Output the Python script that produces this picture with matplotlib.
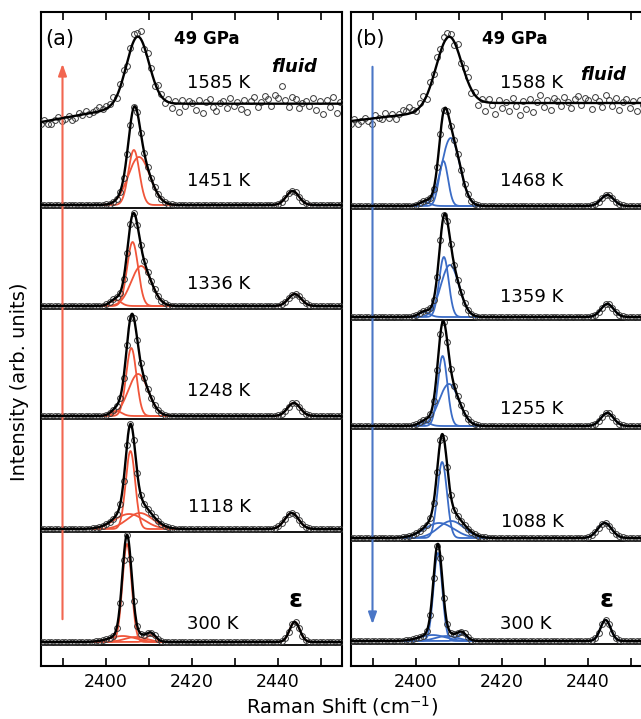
import numpy as np
import matplotlib.pyplot as plt
from matplotlib.ticker import MultipleLocator

W, H = 641, 719

# temperatures, top to bottom: (a) heating, (b) cooling
temps_a = [1585, 1451, 1336, 1248, 1118, 300]
temps_b = [1588, 1468, 1359, 1255, 1088, 300]

# zero line of each stacked spectrum (arb. units)
offsets_a = [540, 458, 357, 247, 134, 21]
offsets_b = [540, 457, 346, 237, 125, 22]

# vibron components (centre cm-1, height, fwhm); first row = fluid, single band
peaks_a = [
    [(2407.4, 70, 6.2)],
    [(2406.6, 55, 3.0), (2407.8, 48, 6.0)],
    [(2402.3, 6, 3.0), (2406.3, 64, 3.0), (2408.3, 40, 5.5)],
    [(2402.5, 5, 3.0), (2406.0, 68, 2.8), (2407.6, 42, 5.5)],
    [(2405.8, 78, 2.6), (2405.5, 15, 8.0), (2408.0, 16, 7.0)],
    [(2405.0, 98, 2.5), (2404.0, 6, 7.0), (2407.0, 5, 6.0), (2410.6, 7, 2.5)],
]
peaks_b = [
    [(2407.6, 71, 7.0)],
    [(2402.1, 4, 3.0), (2406.5, 45, 2.5), (2408.2, 68, 5.0)],
    [(2402.0, 5, 3.0), (2406.6, 60, 2.6), (2408.0, 52, 5.0)],
    [(2402.0, 4, 3.0), (2406.3, 70, 2.6), (2407.8, 42, 5.5)],
    [(2406.2, 76, 2.6), (2405.5, 15, 8.0), (2408.3, 17, 7.0)],
    [(2405.2, 88, 2.4), (2404.0, 6, 7.0), (2407.2, 5, 6.0), (2410.8, 7, 2.5)],
]
# epsilon-phase band (centre, height, fwhm)
eps_a = [None, (2443.5, 14, 3.5), (2444.0, 12, 3.5), (2443.8, 13, 3.5), (2443.3, 16, 3.8), (2444.0, 20, 2.8)]
eps_b = [None, (2444.6, 11, 3.5), (2444.6, 13, 3.5), (2444.6, 13, 3.5), (2444.0, 15, 3.8), (2444.2, 21, 2.8)]

# fluid background: level at 2385, slope, knee, step under the band
fluid_bg_a = (4, 0.77, 2401, 6.0)
fluid_bg_b = (5, 0.50, 2401, 10.0)
base_level = 3

# scatter of the fluid data points about the fit
res_fluid_a = [-2, 1, -3, -4, 0, 2, -3, -1, 1, -4, -2, 2, 0, 3, -1, 1, 2, 4, 1, 3,
               2, 5, -2, 3, 6, -3, 2, 7, 4, 8, -2, 5, 3, -4, 6, 2,
               -3, 3, -5, 2, -8, 4, -2, 3, 1, -6, 4, -9, 2, 5, -3, -7, 1, 3, -4, 6,
               -2, 2, -5, 4, -8, 3, 7, -3, 2, 8, 5, -2, 9, 6, 18, 4, -3, 7, 5, -4,
               1, 3, -2, 6, -6, 3, -10, 4, -3, 7, -9, 2]
res_fluid_b = [-3, 2, -4, -1, 1, -2, -5, 3, 0, -2, 4, -1, 2, -3, 1, 5, 3, 6, 2, -1,
               4, 6, -3, 5, 2, 7, 3, 6, 5, 3, -3, 6, -2, 4, 5, -4,
               3, -6, 2, -9, 4, -2, -11, 3, -5, 1, -8, 5, -3, -12, 2, -6, 4, -9, 1, 8,
               -4, 3, -7, 5, 2, -3, 6, 1, -5, 4, 7, -2, 5, 3, -6, 6, 2, -4, 8, 3,
               -3, 5, -7, 1, 4, -5, 2, -8, 3, -2, 4, -6]


def gauss(x, c, h, w):
    return h * np.exp(-4 * np.log(2) * (x - c) ** 2 / w ** 2)


def fluid_bg(x, bg, c):
    lo, slope, knee, step = bg
    return lo + slope * (np.minimum(x, knee) - 2385) + step / (1 + np.exp(-(x - c) / 1.2))


def px(x, y):
    return x / W, 1 - y / H


def draw_panel(ax, temps, offsets, peaks, eps, bg, res, col):
    xf = np.linspace(2385, 2455, 800)
    xd = np.arange(2385, 2455.01, 0.8)
    mk = dict(ls='none', marker='o', ms=4.2, mfc='none', mec='#3a3a3a', mew=0.7, zorder=3)
    for i in range(len(temps)):
        off = offsets[i]
        if i == 0:
            c, h, w = peaks[0][0]
            fit = lambda x: off + fluid_bg(x, bg, c) + gauss(x, c, h, w)
            xr = 2385 + 0.8 * np.arange(len(res))
            ax.plot(xr, fit(xr) + np.array(res), **mk)
            ax.plot(xf, fit(xf), color='black', lw=1.7, zorder=4)
            continue
        ax.axhline(off, color='black', lw=1.3, zorder=1)
        comps = list(peaks[i])
        xm = np.linspace(2397, 2418, 300)
        for c, h, w in comps:
            ax.plot(xm, off + base_level + gauss(xm, c, h, w), color=col, lw=1.3, zorder=2)
        xe = np.linspace(2439.5, 2448, 100)
        ce, he, we = eps[i]
        ax.plot(xe, off + base_level + gauss(xe, ce, he, we), color=col, lw=1.3, zorder=2)
        allc = comps + [eps[i]]
        tot = lambda x: off + base_level + sum(gauss(x, c, h, w) for c, h, w in allc)
        ax.plot(xd, tot(xd), **mk)
        ax.plot(xf, tot(xf), color='black', lw=1.7, zorder=4)

    ax.set_xlim(2385, 2455)
    ax.set_ylim(0, 654)
    ax.set_yticks([])
    ax.xaxis.set_major_locator(MultipleLocator(20))
    ax.xaxis.set_minor_locator(MultipleLocator(10))
    ax.tick_params(axis='x', which='both', direction='in', top=True, length=6, width=1.2,
                   labelsize=12.5, pad=5)
    for s in ax.spines.values():
        s.set_linewidth(1.5)


fig = plt.figure(figsize=(W / 100, H / 100), dpi=100)
ax1 = fig.add_axes([41 / W, (H - 666) / H, 301 / W, 654 / H])
ax2 = fig.add_axes([351 / W, (H - 666) / H, 301 / W, 654 / H])

red = '#f0553a'
blue = '#3b6cc6'
draw_panel(ax1, temps_a, offsets_a, peaks_a, eps_a, fluid_bg_a, res_fluid_a, red)
draw_panel(ax2, temps_b, offsets_b, peaks_b, eps_b, fluid_bg_b, res_fluid_b, blue)

ax1.annotate('', xy=(2390, 605), xytext=(2390, 44),
             arrowprops=dict(arrowstyle='-|>,head_width=0.25,head_length=0.7', color='#f26650', lw=1.5))
ax2.annotate('', xy=(2390, 39), xytext=(2390, 602),
             arrowprops=dict(arrowstyle='-|>,head_width=0.25,head_length=0.7', color='#4a76c6', lw=1.5))

# temperature labels (pixel positions of label centres)
ya = [83, 181, 284, 391, 507, 624]
yb = [83, 181, 297, 409, 522, 624]
for i in range(6):
    xa = 213 if temps_a[i] == 300 else 219
    xb = 526 if temps_b[i] == 300 else 532
    fig.text(*px(xa, ya[i]), f'{temps_a[i]} K', fontsize=13, ha='center', va='center')
    fig.text(*px(xb, yb[i]), f'{temps_b[i]} K', fontsize=13, ha='center', va='center')

fig.text(*px(60, 39), '(a)', fontsize=15, ha='center', va='center')
fig.text(*px(370, 39), '(b)', fontsize=15, ha='center', va='center')
fig.text(*px(207, 39), '49 GPa', fontsize=12, fontweight='bold', ha='center', va='center')
fig.text(*px(515, 39), '49 GPa', fontsize=12, fontweight='bold', ha='center', va='center')
fig.text(*px(294, 67), 'fluid', fontsize=13, fontweight='bold', style='italic', ha='center', va='center')
fig.text(*px(603, 75), 'fluid', fontsize=13, fontweight='bold', style='italic', ha='center', va='center')
fig.text(*px(296, 600), 'ε', fontsize=18, fontweight='bold', ha='center', va='center')
fig.text(*px(607, 600), 'ε', fontsize=18, fontweight='bold', ha='center', va='center')

fig.text(*px(342, 706), 'Raman Shift (cm$^{-1}$)', fontsize=14, ha='center', va='center')
fig.text(*px(20, 382), 'Intensity (arb. units)', fontsize=14, rotation=90, ha='center', va='center')

fig.savefig('out.png', dpi=100)
